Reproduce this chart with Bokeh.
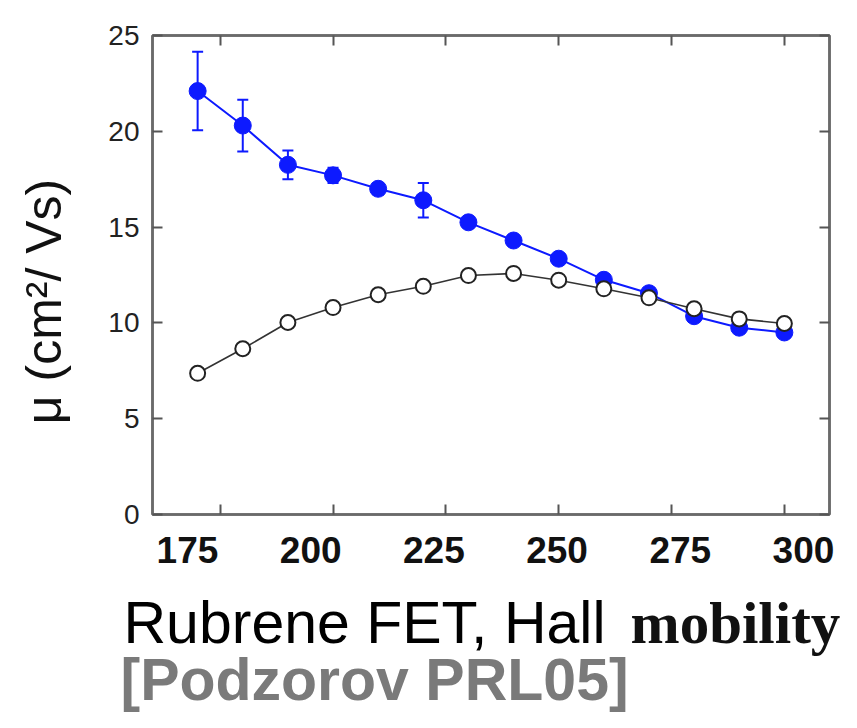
import math
from bokeh.plotting import figure
from bokeh.layouts import column, row
from bokeh.models import (LinearAxis, Range1d, Whisker, TeeHead,
                          ColumnDataSource, FixedTicker)
from bokeh.core.properties import value
from bokeh.embed import file_html
from bokeh.resources import INLINE

# ---------------- data ----------------
temps = [170, 180, 190, 200, 210, 220, 230, 240, 250, 260, 270, 280, 290, 300]
mu_hall = [22.1, 20.3, 18.25, 17.7, 17.0, 16.4, 15.25, 14.3, 13.35, 12.25,
           11.55, 10.35, 9.75, 9.5]
hall_err = [2.05, 1.35, 0.75, 0.4, 0.3, 0.9, 0.2, 0.2, 0.2, 0.2, 0.2, 0.15,
            0.15, 0.15]
mu_fet = [7.37, 8.65, 10.02, 10.8, 11.47, 11.91, 12.47, 12.58, 12.23, 11.78,
          11.31, 10.74, 10.21, 9.97]
x_ticks = [175, 200, 225, 250, 275, 300]
y_ticks = [0, 5, 10, 15, 20, 25]
y_title = "\u03bc (cm\u00b2/ Vs)"
title_a = "Rubrene FET, Hall"
title_b = "mobility"
source_note = "[Podzorov PRL05]"

# ---------------- layout ----------------
W = 841
WY = 100          # strip holding the rotated y title
WP = W - WY       # chart
HM = 575          # chart height
HT = 712 - HM     # caption height
FL, FR, FT, FB = 152 - WY, 829 - WY, 35, 514
FRAME = "#6a6a6a"
BLUE = "#0d1aff"


def blank(width, height):
    f = figure(width=width, height=height, output_backend="svg",
               toolbar_location=None, x_range=Range1d(0, width),
               y_range=Range1d(0, height), min_border=0,
               x_axis_location=None, y_axis_location=None)
    f.frame_align = False
    f.outline_line_color = None
    f.xgrid.visible = False
    f.ygrid.visible = False
    return f


p = figure(width=WP, height=HM, output_backend="svg", toolbar_location=None,
           x_range=Range1d(160, 310), y_range=Range1d(0, 25),
           min_border_left=FL, min_border_right=WP - FR,
           min_border_top=FT, min_border_bottom=HM - FB)
p.frame_align = False
p.xgrid.visible = False
p.ygrid.visible = False
p.outline_line_color = FRAME
p.outline_line_width = 2.5


def frame_axis(ax, ticks, show_labels):
    ax.ticker = FixedTicker(ticks=ticks)
    ax.major_tick_in = 10
    ax.major_tick_out = 0
    ax.minor_tick_line_color = None
    ax.axis_line_color = FRAME
    ax.axis_line_width = 2.5
    ax.major_tick_line_color = "#555555"
    ax.major_tick_line_width = 2
    if not show_labels:
        ax.major_label_overrides = {t: "" for t in ticks}
        ax.major_label_standoff = 0


# left y axis with labels
yax = p.yaxis[0]
frame_axis(yax, y_ticks, True)
yax.major_label_text_font = "Liberation Sans"
yax.major_label_text_font_size = "28px"
yax.major_label_text_color = "#222222"
yax.major_label_standoff = 13

# bottom x axis: ticks only (true temperature scale)
xax = p.xaxis[0]
frame_axis(xax, x_ticks, False)

# top and right frame axes with inward ticks
top = LinearAxis()
frame_axis(top, x_ticks, False)
p.add_layout(top, "above")
right = LinearAxis()
frame_axis(right, y_ticks, False)
p.add_layout(right, "right")

# tick label row as printed in the figure (spaced slightly wider)
p.extra_x_ranges = {"lab": Range1d(167.90, 305.28)}
lab = LinearAxis(x_range_name="lab")
lab.ticker = FixedTicker(ticks=x_ticks)
lab.axis_line_color = None
lab.major_tick_line_color = None
lab.minor_tick_line_color = None
lab.major_tick_in = 0
lab.major_tick_out = 0
lab.major_label_standoff = 22
lab.major_label_text_font = "Liberation Sans"
lab.major_label_text_font_style = "bold"
lab.major_label_text_font_size = "37px"
lab.major_label_text_color = "#111111"
p.add_layout(lab, "below")

# ---------------- data marks ----------------
p.line(temps, mu_hall, line_color=BLUE, line_width=2)
upper = [m + e for m, e in zip(mu_hall, hall_err)]
lower = [m - e for m, e in zip(mu_hall, hall_err)]
src = ColumnDataSource(dict(x=temps, upper=upper, lower=lower))
p.add_layout(Whisker(base="x", upper="upper", lower="lower", source=src,
                     line_color=BLUE, line_width=2,
                     upper_head=TeeHead(size=11, line_color=BLUE, line_width=2),
                     lower_head=TeeHead(size=11, line_color=BLUE, line_width=2)))
p.scatter(temps, mu_hall, size=17, fill_color=BLUE, line_color=BLUE,
          line_width=1)

p.line(temps, mu_fet, line_color="#333333", line_width=1.6)
p.scatter(temps, mu_fet, size=15, fill_color="white", line_color="#222222",
          line_width=2)

# ---------------- rotated y title strip ----------------
ys = blank(WY, HM)
ys.text(x=[43], y=[HM - 301], text=[y_title], angle=math.pi / 2,
        text_font=value("Liberation Sans"), text_font_size="50px",
        text_color="#111111", text_align="center", text_baseline="middle")

# ---------------- caption below the chart ----------------
t = blank(W, HT)
t.text(x=[123], y=[90], text=[title_a], text_font=value("Liberation Sans"),
       text_font_size="59px", text_color="#000000", text_baseline="alphabetic",
       text_align="left")
t.text(x=[630], y=[90], text=[title_b], text_font=value("Liberation Serif"),
       text_font_style="bold", text_font_size="59px", text_color="#111111",
       text_baseline="alphabetic", text_align="left")
t.text(x=[120], y=[33], text=[source_note], text_font=value("Liberation Sans"),
       text_font_style="bold", text_font_size="59px", text_color="#7a7a7a",
       text_baseline="alphabetic", text_align="left")

open("out.html", "w").write(file_html(column(row(ys, p), t), INLINE))
